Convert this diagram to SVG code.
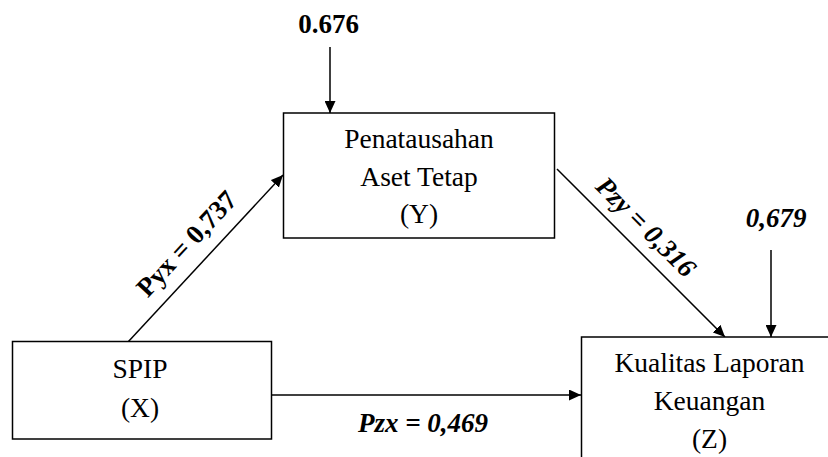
<svg xmlns="http://www.w3.org/2000/svg" width="828" height="457" viewBox="0 0 828 457">
<style>
.box{fill:#fff;stroke:#000;stroke-width:1.5}
.nt{font-family:"Liberation Serif","Times New Roman",serif;font-size:27.5px;text-anchor:middle;fill:#000}
.lb{font-family:"Liberation Serif","Times New Roman",serif;font-size:27px;font-weight:bold;text-anchor:middle;fill:#000}
.it{font-style:italic}
.ln{stroke:#000;stroke-width:1.5;fill:none;marker-end:url(#ah)}
</style>
<defs>
<marker id="ah" markerUnits="userSpaceOnUse" markerWidth="12" markerHeight="11" refX="12" refY="5.5" orient="auto">
<path d="M0,0 L12,5.5 L0,11 z" fill="#000"/>
</marker>
</defs>
<rect width="828" height="457" fill="#fff"/>
<g id="connectors">
<line class="ln" x1="330" y1="47" x2="330" y2="113"/>
<line class="ln" x1="128" y1="342" x2="283" y2="175"/>
<line class="ln" x1="557" y1="169" x2="725" y2="337"/>
<line class="ln" x1="771" y1="250" x2="771" y2="337"/>
<line class="ln" x1="272" y1="395" x2="581" y2="395"/>
<text class="lb" x="328.5" y="33">0.676</text>
<text class="lb it" x="776" y="227">0,679</text>
<text class="lb it" x="423" y="432">Pzx = 0,469</text>
<text class="lb" transform="translate(204,260) rotate(-47)" x="0" y="-15">Pyx = 0,737</text>
<text class="lb it" transform="translate(630.5,242.5) rotate(45)" x="0" y="-13">Pzy = 0,316</text>
</g>
<g id="nodeY" font-family="Liberation Serif, serif">
<rect class="box" x="283.5" y="113" width="271" height="125"/>
<text class="nt" x="419" y="148">Penatausahan</text>
<text class="nt" x="419" y="186">Aset Tetap</text>
<text class="nt" x="419" y="223">(Y)</text>
</g>
<g id="nodeX" font-family="Liberation Serif, serif">
<rect class="box" x="12.5" y="341.5" width="259" height="97.5"/>
<text class="nt" x="140" y="378">SPIP</text>
<text class="nt" x="140" y="417">(X)</text>
</g>
<g id="nodeZ" font-family="Liberation Serif, serif">
<rect class="box" x="581.5" y="337" width="260" height="130"/>
<text class="nt" x="709.5" y="372">Kualitas Laporan</text>
<text class="nt" x="709.5" y="410">Keuangan</text>
<text class="nt" x="709.5" y="448">(Z)</text>
</g>
</svg>
